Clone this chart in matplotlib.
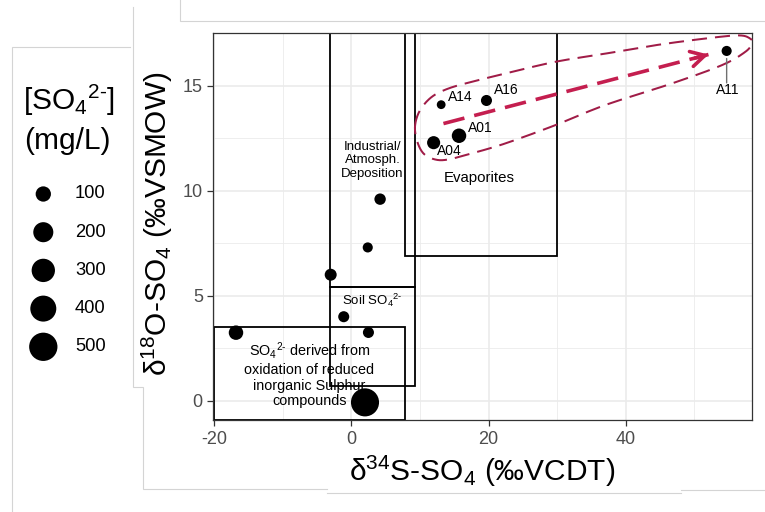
import numpy as np
import matplotlib
matplotlib.use("Agg")
import matplotlib.pyplot as plt
from matplotlib.patches import Rectangle

plt.rcParams['font.family'] = ['Liberation Sans', 'DejaVu Sans']
plt.rcParams['mathtext.fontset'] = 'custom'
plt.rcParams['mathtext.rm'] = 'Liberation Sans'
plt.rcParams['mathtext.it'] = 'Liberation Sans:italic'
plt.rcParams['mathtext.bf'] = 'Liberation Sans:bold'
plt.rcParams['mathtext.sf'] = 'Liberation Sans'
plt.rcParams['axes.unicode_minus'] = False

# ---------------- data ----------------
sample = ['A11', 'A14', 'A16', 'A01', 'A04', '', '', '', '', '', '', '']
d34S = [54.7, 13.1, 19.7, 15.7, 12.0, 4.2, 2.4, -3.0, -1.1, 2.5, -16.8, 2.0]
d18O = [16.66, 14.1, 14.3, 12.62, 12.29, 9.6, 7.3, 6.0, 4.0, 3.25, 3.24, -0.08]
so4 = [52, 50, 56, 88, 72, 58, 52, 62, 56, 56, 88, 490]

legend_values = [100, 200, 300, 400, 500]

# source fields: xmin, ymin, xmax, ymax
field_xmin = [-20.0, -3.15, -3.15, 7.8]
field_ymin = [-0.9, 0.7, 5.4, 6.9]
field_xmax = [7.8, 9.25, 9.25, 30.0]
field_ymax = [3.5, 5.4, 17.5, 17.5]

SO4 = r'SO$_4$$^{2\text{-}}$'
field_text = [SO4 + ' derived from\noxidation of reduced\ninorganic Sulphur\ncompounds',
              'Soil ' + SO4,
              'Industrial/\nAtmosph.\nDeposition',
              'Evaporites']
field_text_x = [-6.1, 3.0, 3.1, 18.7]
field_text_y = [1.25, 4.8, 11.45, 10.6]

# outline of the evaporite trend (hand-drawn loop), data coordinates
trend_x = [9.30, 10.03, 11.73, 14.15, 17.56, 22.41, 29.70, 36.99, 44.27, 51.56,
           56.41, 58.12, 58.37, 57.39, 53.99, 46.71, 36.99, 29.70, 22.41, 17.56,
           14.15, 12.21, 10.51, 9.55]
trend_y = [13.12, 13.84, 14.47, 14.87, 15.19, 15.58, 16.14, 16.53, 16.93, 17.25,
           17.40, 17.25, 17.01, 16.61, 15.98, 15.11, 14.08, 13.12, 12.25, 11.78,
           11.49, 11.49, 11.78, 12.41]
arrow_start = (13.43, 13.20)
arrow_end = (52.05, 16.49)

# ---------------- styling ----------------
DPI = 100
W, H = 765, 512
PX2PT = 72.0 / DPI
CMIN, CMAX = 50.0, 500.0
DMIN, DMAX = 8.8, 28.3  # px diameters


def size_pt2(c):
    c = np.asarray(c, dtype=float)
    frac = np.clip((c - CMIN) / (CMAX - CMIN), 0, 1)
    d_px = DMIN + (DMAX - DMIN) * np.sqrt(frac)
    return (d_px * PX2PT) ** 2


def closed_spline(xs, ys, n=20):
    P = np.column_stack([xs, ys])
    m = len(P)
    out = []
    t = np.linspace(0, 1, n, endpoint=False)[:, None]
    for i in range(m):
        p0, p1, p2, p3 = P[(i - 1) % m], P[i], P[(i + 1) % m], P[(i + 2) % m]
        seg = 0.5 * (2 * p1 + (-p0 + p2) * t + (2 * p0 - 5 * p1 + 4 * p2 - p3) * t ** 2
                     + (-p0 + 3 * p1 - 3 * p2 + p3) * t ** 3)
        out.append(seg)
    out = np.vstack(out + [P[:1]])
    return out[:, 0], out[:, 1]


fig = plt.figure(figsize=(W / DPI, H / DPI), dpi=DPI)
fig.patch.set_facecolor('white')
L, R, T, B = 213, 751.7, 33.3, 420
ax = fig.add_axes([L / W, (H - B) / H, (R - L) / W, (B - T) / H])

ax.set_xlim(-20.15, 58.35)
ax.set_ylim(-0.92, 17.5)
ax.set_xticks([-20, 0, 20, 40])
ax.set_yticks([0, 5, 10, 15])
ax.set_xticks([-10, 10, 30, 50], minor=True)
ax.set_yticks([2.5, 7.5, 12.5], minor=True)
ax.grid(True, which='major', color='#EBEBEB', lw=1.2, zorder=0)
ax.grid(True, which='minor', color='#EBEBEB', lw=0.6, zorder=0)
ax.set_axisbelow(True)
ax.tick_params(which='major', length=4.3, width=0.9, color='#333333',
               labelsize=13, labelcolor='#4D4D4D')
ax.tick_params(axis='x', pad=3.5)
ax.tick_params(axis='y', pad=3.0)
ax.tick_params(which='minor', length=0)
for s in ax.spines.values():
    s.set_color('#333333')
    s.set_linewidth(0.9)

# source fields
for x0, y0, x1, y1 in zip(field_xmin, field_ymin, field_xmax, field_ymax):
    ax.add_patch(Rectangle((x0, y0), x1 - x0, y1 - y0, fill=False,
                           ec='black', lw=1.3, zorder=2))
field_fs = [10.4, 9.5, 9.5, 10.8]
field_ls = [1.15, 1.2, 1.2, 1.2]
for txt, tx, ty, fs, ls in zip(field_text, field_text_x, field_text_y, field_fs, field_ls):
    ax.text(tx, ty, txt, ha='center', va='center', fontsize=fs,
            linespacing=ls, color='black', zorder=3)

# trend loop
ex, ey = closed_spline(trend_x, trend_y)
ax.plot(ex, ey, color='#A01C47', lw=1.45, ls=(0, (7.5, 4)), zorder=4,
        clip_on=False)

# arrow
arrow_col = '#C41E4F'
ax.plot([arrow_start[0], arrow_end[0]], [arrow_start[1], arrow_end[1]],
        color=arrow_col, lw=2.6, ls=(0, (6, 2.8)), zorder=4,
        solid_capstyle='butt', dash_capstyle='butt')
back = (arrow_end[0] - 0.05 * (arrow_end[0] - arrow_start[0]),
        arrow_end[1] - 0.05 * (arrow_end[1] - arrow_start[1]))
ax.annotate('', xy=arrow_end, xytext=back,
            arrowprops=dict(arrowstyle='->,head_length=1.0,head_width=0.55',
                            color=arrow_col, lw=2.6, shrinkA=0, shrinkB=0),
            zorder=4)

# points
ax.scatter(d34S, d18O, s=size_pt2(so4), c='black', linewidths=0, zorder=5)

# labels
label_offsets = {'A14': (13.7, 5.5), 'A16': (14.2, 7.2), 'A01': (15.1, 5.8),
                 'A04': (11.5, -6.0), 'A11': (0.7, -27.9)}
for nm, x, y in zip(sample, d34S, d18O):
    if not nm:
        continue
    ax.annotate(nm, xy=(x, y), xytext=label_offsets[nm], textcoords='offset points',
                ha='center', va='center', fontsize=10, color='black', zorder=6)
    if nm == 'A11':
        ax.annotate('', xy=(x, y), xytext=(0, -23), textcoords='offset points',
                    arrowprops=dict(arrowstyle='-', color='#707070', lw=1.0,
                                    shrinkA=0, shrinkB=5.5), zorder=6)

# axis titles
ax.set_xlabel('δ$^{34}$S-SO$_4$ (‰VCDT)', fontsize=21.5, color='black')
ax.set_ylabel('δ$^{18}$O-SO$_4$ (‰VSMOW)', fontsize=21.5, color='black')
ax.xaxis.label.set_va('center')
ax.yaxis.label.set_va('center')
ax.xaxis.set_label_coords(0.5, (B - 471.7) / (B - T))
ax.yaxis.set_label_coords((157 - L) / (R - L), (B - 223.5) / (B - T))

# overlay (pixel coordinates) for legend and frame lines
ov = fig.add_axes([0, 0, 1, 1])
ov.set_xlim(0, W)
ov.set_ylim(H, 0)
ov.axis('off')

# faint frame lines from the source composition
frame_col = '#D4D4D4'
frame_segments = [
    [(133, 7), (133, 387), (143, 387), (143, 489), (327, 489)],
    [(327, 493), (681, 493)],
    [(681, 490), (765, 490)],
    [(12, 512), (12, 47), (130, 47)],
    [(180, 0), (180, 21), (765, 21)],
]
for seg in frame_segments:
    xs, ys = zip(*seg)
    ov.plot(xs, ys, color=frame_col, lw=0.8, solid_joinstyle='miter')

# legend
ov.text(23, 110, '[' + SO4 + ']', fontsize=21.5, ha='left', va='baseline')
ov.text(24, 149, '(mg/L)', fontsize=21.5, ha='left', va='baseline')
leg_y = [194 + 38.2 * i for i in range(len(legend_values))]
ov.scatter([43.3] * len(legend_values), leg_y, s=size_pt2(legend_values),
           c='black', linewidths=0)
for v, y in zip(legend_values, leg_y):
    ov.text(75, y, str(v), fontsize=13.2, ha='left', va='center', color='black')

fig.savefig('out.png', dpi=DPI)
